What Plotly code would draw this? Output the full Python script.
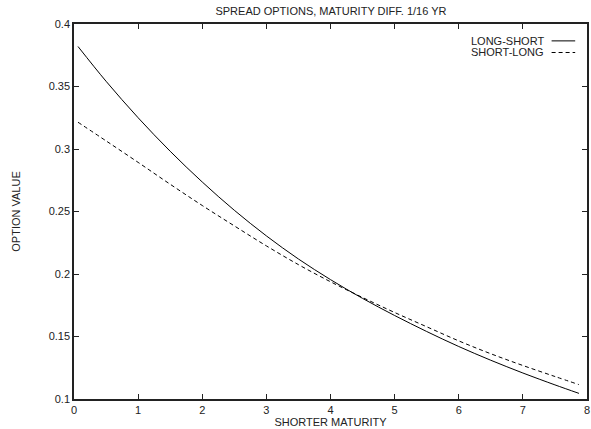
import plotly.graph_objects as go

# Shorter maturity (years)
maturity = [0.0625, 0.5, 1, 1.5, 2, 2.5, 3, 3.5, 4, 4.5, 5, 5.5, 6, 6.5, 7, 7.5, 7.875]
# Option values for the two spread orderings
long_short = [0.3820, 0.3542, 0.3250, 0.2982, 0.2736, 0.2510, 0.2305, 0.2120, 0.1955,
              0.1805, 0.1668, 0.1540, 0.1420, 0.1310, 0.1208, 0.1113, 0.1045]
short_long = [0.3214, 0.3065, 0.2893, 0.2718, 0.2548, 0.2385, 0.2225, 0.2075, 0.1938,
              0.1812, 0.1692, 0.1578, 0.1465, 0.1362, 0.1268, 0.1180, 0.1115]

x_ticks = [0, 1, 2, 3, 4, 5, 6, 7, 8]
y_ticks = [0.1, 0.15, 0.2, 0.25, 0.3, 0.35, 0.4]
y_tick_text = ["0.1", "0.15", "0.2", "0.25", "0.3", "0.35", "0.4"]

FONT = "Liberation Sans, Arial, Helvetica, sans-serif"
TXT = "#222222"

fig = go.Figure()
fig.add_trace(go.Scatter(x=maturity, y=long_short, mode="lines", name="LONG-SHORT",
                         line=dict(color="black", width=1, shape="spline")))
fig.add_trace(go.Scatter(x=maturity, y=short_long, mode="lines", name="SHORT-LONG",
                         line=dict(color="black", width=1, dash="4px,3px", shape="spline")))

axis_common = dict(showgrid=False, zeroline=False, showline=True, mirror="allticks",
                   linecolor="#222222", linewidth=1.5, ticks="inside", ticklen=5,
                   tickcolor="#222222", tickwidth=1,
                   tickfont=dict(family=FONT, size=11, color=TXT))

fig.update_layout(
    width=591, height=429,
    margin=dict(l=74, r=2, t=24, b=30),
    paper_bgcolor="white", plot_bgcolor="white",
    showlegend=False,
    title=dict(text="SPREAD OPTIONS, MATURITY DIFF. 1/16 YR", x=0.56, xanchor="center",
               y=0.975, yanchor="middle", font=dict(family=FONT, size=11, color=TXT)),
    xaxis=dict(range=[0, 8], tickvals=x_ticks, **axis_common,
               title=dict(text="SHORTER MATURITY", standoff=0,
                          font=dict(family=FONT, size=11, color=TXT))),
    yaxis=dict(range=[0.1, 0.4], tickvals=y_ticks, ticktext=y_tick_text, **axis_common,
               title=dict(text="OPTION VALUE", standoff=26,
                          font=dict(family=FONT, size=11, color=TXT))),
)

# Key in the upper right corner: label on the left, line sample on the right
key = [("LONG-SHORT", "solid", 0.955), ("SHORT-LONG", "4px,3px", 0.924)]
for label, dash, yp in key:
    fig.add_annotation(text=label, xref="paper", yref="paper", x=0.921, y=yp,
                       xanchor="right", yanchor="middle", showarrow=False,
                       font=dict(family=FONT, size=11, color=TXT))
    fig.add_shape(type="line", xref="paper", yref="paper", x0=0.931, x1=0.977,
                  y0=yp, y1=yp, line=dict(color="black", width=1, dash=dash))

fig.write_html("out.html")
